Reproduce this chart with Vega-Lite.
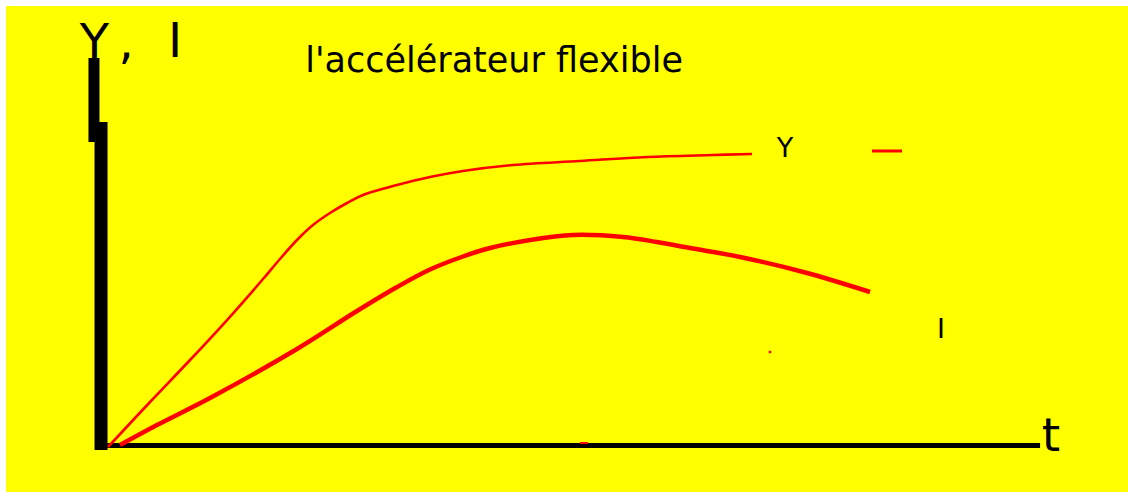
{
  "$schema": "https://vega.github.io/schema/vega-lite/v6.json",
  "width": 1130,
  "height": 490,
  "autosize": {"type": "none"},
  "padding": {"left": 6, "top": 6, "right": 0, "bottom": 0},
  "background": "#ffffff",
  "config": {"view": {"fill": "#ffff00", "stroke": null}},
  "datasets": {
    "curves": [
      {"series": "Y", "t": 0.086, "v": 0.0},
      {"series": "Y", "t": 0.538, "v": 1.5},
      {"series": "Y", "t": 0.968, "v": 2.9},
      {"series": "Y", "t": 1.366, "v": 4.233},
      {"series": "Y", "t": 1.753, "v": 5.6},
      {"series": "Y", "t": 1.935, "v": 6.267},
      {"series": "Y", "t": 2.118, "v": 6.9},
      {"series": "Y", "t": 2.29, "v": 7.4},
      {"series": "Y", "t": 2.473, "v": 7.8},
      {"series": "Y", "t": 2.656, "v": 8.133},
      {"series": "Y", "t": 2.828, "v": 8.4},
      {"series": "Y", "t": 3.194, "v": 8.733},
      {"series": "Y", "t": 3.548, "v": 9.0},
      {"series": "Y", "t": 3.903, "v": 9.2},
      {"series": "Y", "t": 4.441, "v": 9.4},
      {"series": "Y", "t": 5.161, "v": 9.533},
      {"series": "Y", "t": 5.882, "v": 9.667},
      {"series": "Y", "t": 6.591, "v": 9.733},
      {"series": "Y", "t": 7.011, "v": 9.767},
      {"series": "I", "t": 0.215, "v": 0.067},
      {"series": "I", "t": 0.613, "v": 0.733},
      {"series": "I", "t": 1.183, "v": 1.633},
      {"series": "I", "t": 2.118, "v": 3.267},
      {"series": "I", "t": 2.763, "v": 4.533},
      {"series": "I", "t": 3.194, "v": 5.333},
      {"series": "I", "t": 3.548, "v": 5.917},
      {"series": "I", "t": 3.903, "v": 6.35},
      {"series": "I", "t": 4.194, "v": 6.633},
      {"series": "I", "t": 4.624, "v": 6.9},
      {"series": "I", "t": 5.086, "v": 7.067},
      {"series": "I", "t": 5.624, "v": 7.0},
      {"series": "I", "t": 5.989, "v": 6.833},
      {"series": "I", "t": 6.344, "v": 6.633},
      {"series": "I", "t": 6.882, "v": 6.333},
      {"series": "I", "t": 7.602, "v": 5.8},
      {"series": "I", "t": 8.28, "v": 5.167}
    ],
    "axes": [
      {"part": "t-axis", "t": 0.0, "v": 0.05, "t2": 10.108, "v2": 0.05},
      {"part": "Y-axis-lower", "t": 0.011, "v": -0.1, "t2": 0.011, "v2": 10.833},
      {"part": "Y-axis-upper", "t": -0.065, "v": 10.167, "t2": -0.065, "v2": 12.967}
    ],
    "strokes": [
      {"part": "dash", "t": 8.301, "v": 9.867, "t2": 8.624, "v2": 9.867},
      {"part": "tick", "t": 5.161, "v": 0.133, "t2": 5.247, "v2": 0.133}
    ],
    "dots": [
      {"t": 7.204, "v": 3.167}
    ],
    "labels": [
      {"role": "axis", "text": "Y", "t": -0.059, "v": 12.967},
      {"role": "axis", "text": ",", "t": 0.28, "v": 12.967},
      {"role": "axis", "text": "I", "t": 0.806, "v": 13.0},
      {"role": "title", "text": "l'accélérateur flexible", "t": 4.237, "v": 12.5},
      {"role": "series", "text": "Y", "t": 7.366, "v": 9.667},
      {"role": "series", "text": "I", "t": 9.043, "v": 3.633},
      {"role": "time", "text": "t", "t": 10.226, "v": -0.133}
    ]
  },
  "encoding": {
    "x": {"field": "t", "type": "quantitative", "scale": {"domain": [-1.0108, 11.1396], "nice": false, "zero": false}, "axis": null},
    "y": {"field": "v", "type": "quantitative", "scale": {"domain": [-1.6333, 14.7], "nice": false, "zero": false}, "axis": null}
  },
  "layer": [
    {
      "data": {"name": "axes"},
      "transform": [{"filter": "datum.part === 't-axis'"}],
      "mark": {"type": "rule", "color": "#000000", "strokeWidth": 5},
      "encoding": {"x2": {"field": "t2"}, "y2": {"field": "v2"}}
    },
    {
      "data": {"name": "axes"},
      "transform": [{"filter": "datum.part === 'Y-axis-lower'"}],
      "mark": {"type": "rule", "color": "#000000", "strokeWidth": 13},
      "encoding": {"x2": {"field": "t2"}, "y2": {"field": "v2"}}
    },
    {
      "data": {"name": "axes"},
      "transform": [{"filter": "datum.part === 'Y-axis-upper'"}],
      "mark": {"type": "rule", "color": "#000000", "strokeWidth": 11},
      "encoding": {"x2": {"field": "t2"}, "y2": {"field": "v2"}}
    },
    {
      "data": {"name": "curves"},
      "transform": [{"filter": "datum.series === 'Y'"}],
      "mark": {"type": "line", "color": "#ff0000", "strokeWidth": 2.6, "interpolate": "catmull-rom"},
      "encoding": {}
    },
    {
      "data": {"name": "curves"},
      "transform": [{"filter": "datum.series === 'I'"}],
      "mark": {"type": "line", "color": "#ff0000", "strokeWidth": 4.5, "interpolate": "catmull-rom"},
      "encoding": {}
    },
    {
      "data": {"name": "strokes"},
      "transform": [{"filter": "datum.part === 'dash'"}],
      "mark": {"type": "rule", "color": "#ff0000", "strokeWidth": 3},
      "encoding": {"x2": {"field": "t2"}, "y2": {"field": "v2"}}
    },
    {
      "data": {"name": "strokes"},
      "transform": [{"filter": "datum.part === 'tick'"}],
      "mark": {"type": "rule", "color": "#ff0000", "strokeWidth": 2},
      "encoding": {"x2": {"field": "t2"}, "y2": {"field": "v2"}}
    },
    {
      "data": {"name": "dots"},
      "mark": {"type": "square", "color": "#ff0000", "size": 6, "opacity": 1},
      "encoding": {}
    },
    {
      "data": {"name": "labels"},
      "transform": [{"filter": "datum.role === 'axis'"}],
      "mark": {"type": "text", "font": "DejaVu Sans", "fontSize": 48, "color": "#000000", "align": "center", "baseline": "alphabetic"},
      "encoding": {"text": {"field": "text"}}
    },
    {
      "data": {"name": "labels"},
      "transform": [{"filter": "datum.role === 'title'"}],
      "mark": {"type": "text", "font": "DejaVu Sans", "fontSize": 35, "color": "#000000", "align": "center", "baseline": "alphabetic"},
      "encoding": {"text": {"field": "text"}}
    },
    {
      "data": {"name": "labels"},
      "transform": [{"filter": "datum.role === 'series'"}],
      "mark": {"type": "text", "font": "DejaVu Sans", "fontSize": 27, "color": "#000000", "align": "center", "baseline": "alphabetic"},
      "encoding": {"text": {"field": "text"}}
    },
    {
      "data": {"name": "labels"},
      "transform": [{"filter": "datum.role === 'time'"}],
      "mark": {"type": "text", "font": "DejaVu Sans", "fontSize": 47, "color": "#000000", "align": "center", "baseline": "alphabetic"},
      "encoding": {"text": {"field": "text"}}
    }
  ]
}
